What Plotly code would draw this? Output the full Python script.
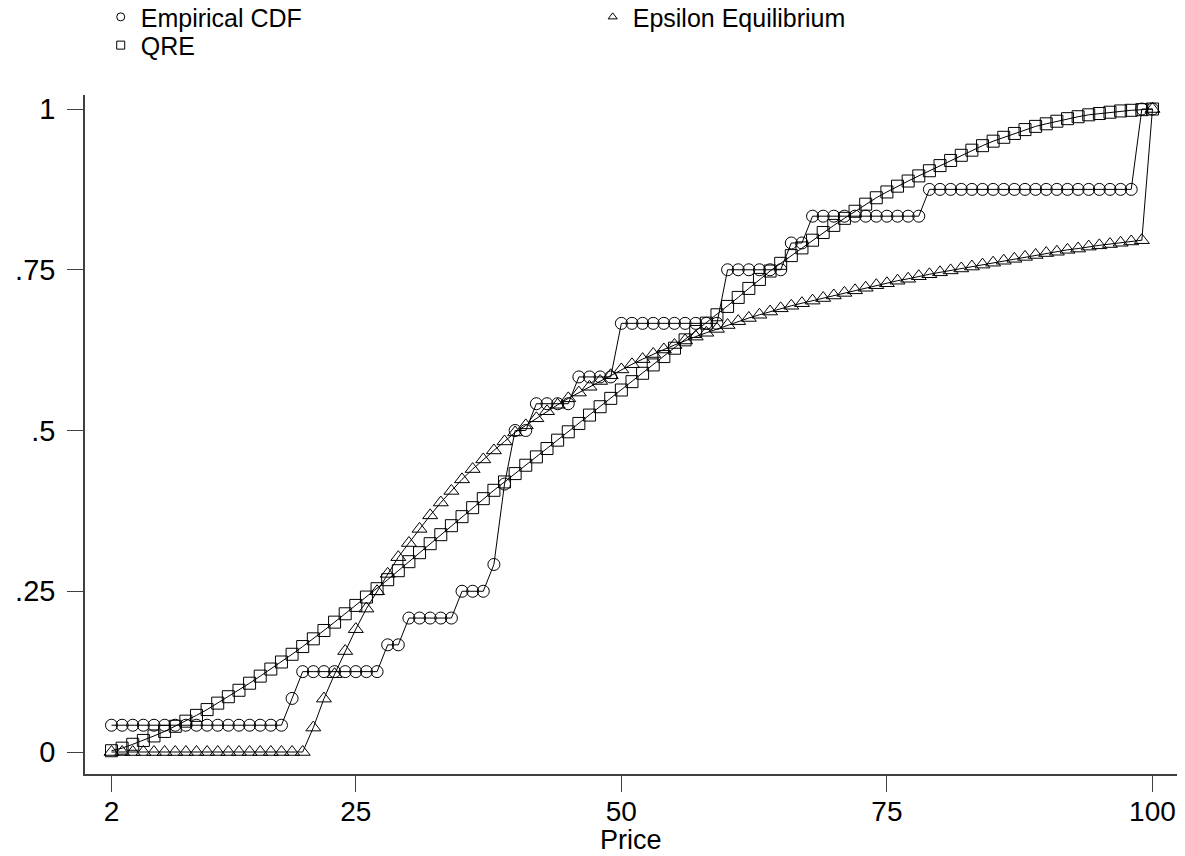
import plotly.graph_objects as go

price = list(range(2, 101))

# Empirical CDF (24 observations)
empirical = ([1/24]*17 + [2/24] + [3/24]*8 + [4/24]*2 + [5/24]*5 + [6/24]*3 + [7/24] + [10/24]
             + [12/24]*2 + [13/24]*4 + [14/24]*4 + [16/24]*10 + [18/24]*6 + [19/24]*2
             + [20/24]*11 + [21/24]*20 + [1.0]*2)

epsilon = [0.0]*19 + [
    0.038, 0.083, 0.121, 0.157, 0.191, 0.223, 0.250, 0.277, 0.303, 0.325,
    0.347, 0.368, 0.388, 0.406, 0.424, 0.440, 0.455, 0.469, 0.483, 0.497,
    0.508, 0.519, 0.530, 0.540, 0.550, 0.559, 0.568, 0.577, 0.586, 0.595,
    0.603, 0.611, 0.619, 0.626, 0.633, 0.640, 0.646, 0.652, 0.658, 0.664,
    0.670, 0.675, 0.680, 0.685, 0.690, 0.694, 0.698, 0.702, 0.706, 0.710,
    0.714, 0.718, 0.722, 0.726, 0.729, 0.733, 0.736, 0.740, 0.743, 0.746,
    0.749, 0.752, 0.755, 0.758, 0.761, 0.764, 0.767, 0.770, 0.773, 0.776,
    0.778, 0.781, 0.783, 0.786, 0.788, 0.790, 0.792, 0.794, 0.796, 1.0]

qre = [
    0.002, 0.006, 0.012, 0.018, 0.025, 0.032, 0.040, 0.048, 0.057, 0.066,
    0.076, 0.086, 0.096, 0.107, 0.118, 0.129, 0.140, 0.152, 0.164, 0.176,
    0.189, 0.202, 0.215, 0.228, 0.241, 0.254, 0.268, 0.282, 0.296, 0.310,
    0.324, 0.338, 0.352, 0.366, 0.380, 0.394, 0.407, 0.420, 0.433, 0.446,
    0.459, 0.472, 0.485, 0.498, 0.511, 0.524, 0.537, 0.550, 0.563, 0.576,
    0.589, 0.602, 0.615, 0.628, 0.641, 0.654, 0.667, 0.680, 0.693, 0.707,
    0.721, 0.735, 0.748, 0.760, 0.772, 0.784, 0.796, 0.808, 0.819, 0.830,
    0.841, 0.852, 0.862, 0.871, 0.880, 0.888, 0.896, 0.904, 0.912, 0.920,
    0.928, 0.936, 0.943, 0.950, 0.956, 0.962, 0.968, 0.973, 0.977, 0.981,
    0.985, 0.988, 0.991, 0.993, 0.995, 0.997, 0.998, 0.999, 1.0]

x_tickvals = [2, 25, 50, 75, 100]
y_tickvals = [0, 0.25, 0.5, 0.75, 1]
y_ticktext = ["0", ".25", ".5", ".75", "1"]
x_title = "Price"

FONT = "Liberation Sans, Arial, Helvetica, sans-serif"
INK = "#000000"
AXIS = "#404040"

series = [
    ("Empirical CDF", empirical, "circle-open", 12, "legend"),
    ("Epsilon Equilibrium", epsilon, "triangle-up-open", 13, "legend"),
    ("QRE", qre, "square-open", 12, "legend2"),
]

fig = go.Figure()
for name, vals, sym, size, lg in series:
    fig.add_trace(go.Scatter(
        x=price, y=vals, mode="lines+markers", name=name, showlegend=False,
        line=dict(color=INK, width=1),
        marker=dict(symbol=sym, size=size, color=INK, line=dict(width=1, color=INK)),
    ))
# legend entries (marker only)
for name, vals, sym, size, lg in series:
    fig.add_trace(go.Scatter(
        x=[None], y=[None], mode="markers", name=name, legend=lg,
        marker=dict(symbol=sym, size=8, color=INK, line=dict(width=1, color=INK)),
    ))

fig.update_layout(
    width=1185, height=856,
    paper_bgcolor="white", plot_bgcolor="white",
    margin=dict(l=85, r=8, t=95, b=82),
    font=dict(family=FONT, size=27, color=INK),
    legend=dict(orientation="h", xref="container", yref="container",
                x=0.085, y=0.980, xanchor="left", yanchor="middle",
                entrywidth=447, entrywidthmode="pixels",
                font=dict(size=25), itemwidth=30, bgcolor="rgba(0,0,0,0)"),
    legend2=dict(orientation="h", xref="container", yref="container",
                 x=0.085, y=0.947, xanchor="left", yanchor="middle",
                 font=dict(size=25), itemwidth=30, bgcolor="rgba(0,0,0,0)"),
    xaxis=dict(range=[-0.495, 102.31], tickvals=x_tickvals, ticks="outside", ticklen=16,
               tickcolor=AXIS, tickwidth=1.2, showline=True, linecolor=AXIS, linewidth=1.5,
               showgrid=False, zeroline=False, tickfont=dict(size=28), ticklabelstandoff=-4),
    yaxis=dict(range=[-0.0342, 1.0218], tickvals=y_tickvals, ticktext=y_ticktext,
               ticks="outside", ticklen=16, tickcolor=AXIS, tickwidth=1.2, showline=True,
               linecolor=AXIS, linewidth=1.5, showgrid=False, zeroline=False,
               tickfont=dict(size=29), ticklabelstandoff=6),
    annotations=[dict(text=x_title, xref="paper", yref="paper", x=0.5, y=-0.0972,
                      xanchor="center", yanchor="middle", showarrow=False,
                      font=dict(size=27))],
)

fig.write_html("out.html")
